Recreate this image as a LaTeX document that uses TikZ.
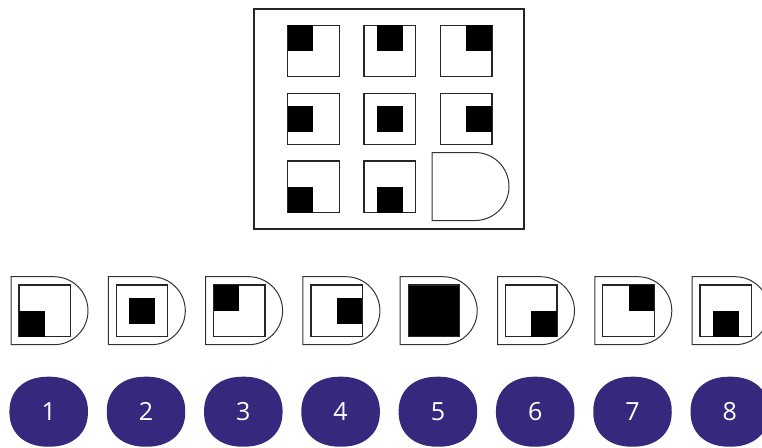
\documentclass[tikz,border=0pt]{standalone}
\usepackage{fontspec}
\setmainfont{Open Sans}
\usetikzlibrary{positioning, shapes.geometric}
\definecolor{badgepurple}{RGB}{54,41,125}
\tikzset{
  board/.style={draw=black!85, line width=1.3pt, minimum width=270pt, minimum height=220pt, inner sep=0pt},
  cell/.style={draw=black!85, line width=1.3pt, minimum size=51.5pt, inner sep=0pt, outer sep=0pt},
  blk/.style={fill=black, minimum size=25.7pt, inner sep=0pt, outer sep=0pt},
  dline/.style={draw=black!80, line width=1pt},
  badge/.style={text=white, inner sep=0pt, font=\fontsize{25}{25}\selectfont},
}
\newcommand{\dshape}[2]{\draw[dline] (#1,#2) -- ++(43,0) arc[start angle=90, end angle=-90, radius=34pt] -- ++(-43,0) -- cycle;}

\begin{document}
\begin{tikzpicture}[x=1pt, y=-1pt]
  \useasboundingbox (0,0) rectangle (762,447);
  % the puzzle board
  \node[board] (board) at (389,119) {};
  \foreach \pos [count=\i from 0] in {north west, north, north east, west, center, east, south west, south} {
    \pgfmathtruncatemacro\col{mod(\i,3)}
    \pgfmathtruncatemacro\row{int(\i/3)}
    \node[cell] (g\i) at (313.5+76.3*\col, 51+67.9*\row) {};
    \node[blk, anchor=\pos] at (g\i.\pos) {};
  }
  \dshape{432}{152.5}
  % answer options
  \foreach \pos [count=\i] in {south west, center, north west, east, center, south east, north east, south} {
    \pgfmathsetmacro\dx{97.3*\i-97.3}
    \dshape{11+\dx}{276.7}
    \node[cell] (o\i) at (44.75+\dx, 310.75) {};
    \ifnum\i=5
      \node[cell, fill=black] at (o\i) {};
    \else
      \node[blk, anchor=\pos] at (o\i.\pos) {};
    \fi
  }
  % numbered badges (superellipse blobs)
  \foreach \i in {1,...,8} {
    \pgfmathsetmacro\bx{48.7+97.3*\i-97.3}
    \fill[badgepurple, shift={(\bx,411.7)}] plot[domain=1:361, samples=91]
      ({39.25*cos(\x)*abs(cos(\x))^(-0.1)}, {35*sin(\x)*abs(sin(\x))^(-0.1)}) -- cycle;
    \node[badge] (b\i) at (\bx,411.7) {\i};
  }
\end{tikzpicture}
\end{document}
